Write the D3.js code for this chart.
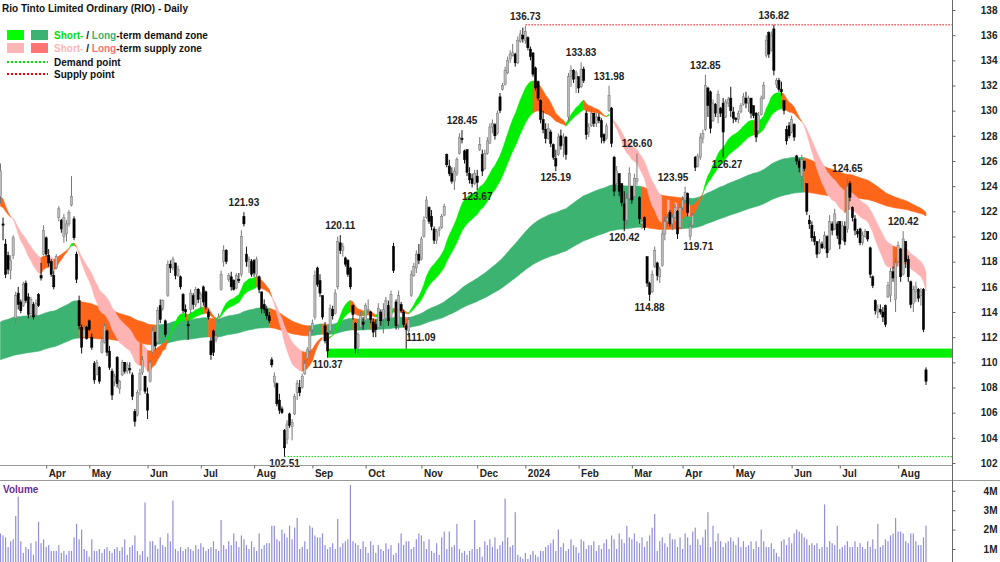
<!DOCTYPE html>
<html>
<head>
<meta charset="utf-8">
<script src="https://cdn.jsdelivr.net/npm/d3@7"></script>
<style>
body { margin: 0; background: #fff; }
svg { display: block; font-family: Arial, "Liberation Sans", sans-serif; }
</style>
</head>
<body>
<div id="chart"></div>
<script>
// RIO daily, 8 Mar 2023 - 15 Aug 2024 (one entry per trading day)
var opens = [
123.2,121.0,119.4,118.5,117.3,118.5,113.5,115.5,114.8,114.5,
116.3,115.2,113.9,114.6,113.8,115.4,116.9,118.6,119.9,118.5,
118.0,116.9,117.5,121.5,121.3,120.0,120.2,121.0,122.5,121.4,
118.6,114.9,112.8,112.0,112.8,113.3,112.0,109.9,109.0,109.6,
110.8,111.6,112.5,110.9,109.3,108.5,110.4,107.9,109.0,110.0,
109.3,109.5,109.0,106.1,105.8,107.8,109.2,108.9,107.5,108.5,
110.8,112.4,111.6,114.5,114.3,113.3,115.3,117.8,117.5,117.9,
116.9,116.8,115.4,114.2,113.0,114.2,115.3,114.6,115.8,115.1,
116.0,115.6,114.0,111.7,112.5,111.8,113.4,115.8,118.0,118.9,
116.6,116.8,116.5,115.9,116.6,117.0,121.6,118.6,117.6,118.0,
118.1,117.0,116.8,115.6,114.6,114.2,113.7,110.2,108.4,108.3,
107.0,106.3,104.6,103.9,105.9,104.9,105.9,107.6,108.0,108.0,
109.1,110.3,110.9,112.6,113.6,117.5,116.5,115.3,112.9,112.3,
112.5,114.2,113.9,116.0,119.5,118.9,118.3,118.1,117.5,114.5,
113.1,111.2,112.8,113.2,113.3,114.1,114.0,113.2,113.0,112.8,
114.0,113.4,113.5,114.5,113.6,119.2,114.8,113.0,114.6,114.0,
112.9,112.5,115.3,116.9,117.5,118.6,118.2,120.0,121.5,122.3,
121.6,120.6,119.7,120.5,120.7,121.7,126.5,125.6,125.0,124.4,
125.0,126.6,127.8,126.8,126.9,125.0,124.6,124.2,124.8,126.9,
126.5,125.4,126.6,127.4,128.7,128.9,128.2,131.1,131.7,132.1,
133.0,134.1,134.4,134.5,133.8,135.5,136.0,135.6,135.8,134.9,
134.6,133.4,132.3,130.8,129.3,128.5,127.8,128.3,127.3,126.2,
126.5,128.0,127.3,127.9,129.5,132.7,133.2,132.6,132.7,131.9,
133.3,129.8,128.3,128.8,129.8,129.0,129.5,129.2,128.1,127.8,
130.0,130.2,126.3,124.2,125.0,124.2,122.6,121.3,123.0,124.0,
123.2,124.4,123.1,121.0,121.5,118.4,116.3,115.6,117.6,117.9,
116.8,117.7,120.2,121.2,121.9,121.0,121.5,122.0,120.7,122.3,
122.9,123.4,120.0,120.9,126.3,125.6,126.3,127.8,128.5,131.8,
131.5,129.2,130.5,129.5,130.2,130.6,129.5,130.6,131.0,129.9,
129.4,129.3,129.9,130.5,131.0,130.6,131.0,130.4,129.8,128.4,
129.7,131.0,134.4,136.2,134.8,136.5,132.1,132.4,131.7,130.8,
128.5,128.8,128.3,128.9,126.4,126.0,124.8,126.0,124.2,121.3,
120.9,120.0,119.6,118.7,119.4,119.1,120.0,119.0,121.0,120.6,
121.0,121.2,119.8,120.8,120.6,124.2,122.3,121.4,120.4,120.6,
119.5,120.0,120.4,119.1,116.8,114.9,114.0,114.2,114.0,114.5,
115.2,115.3,117.2,115.0,118.0,119.0,117.0,119.6,118.2,116.4,
114.7,115.6,115.8,115.3,115.8,109.4
];
var highs = [
125.8,121.5,119.8,118.8,118.5,120.1,115.6,116.0,115.0,116.4,
116.5,115.5,115.2,114.8,115.0,115.5,117.9,120.9,120.0,119.0,
118.2,117.3,118.6,122.4,121.4,121.8,121.3,122.1,124.8,121.6,
118.8,115.3,113.0,113.0,112.9,113.4,112.3,110.1,110.2,109.7,
112.0,113.1,112.6,111.3,109.5,109.1,110.5,108.6,110.2,110.0,
110.0,110.0,109.2,106.3,107.8,109.5,110.5,108.9,108.0,110.2,
112.8,112.4,114.4,115.0,115.0,113.4,118.1,118.1,118.4,117.9,
117.7,116.9,115.5,114.6,113.3,115.8,115.5,116.0,115.9,115.6,
116.1,115.7,114.2,112.0,112.6,112.3,113.9,117.3,119.3,119.0,
117.1,117.2,116.6,117.1,117.1,120.5,121.93,119.2,118.4,118.2,
118.2,118.4,116.9,115.6,115.0,114.5,114.0,110.4,109.2,108.4,
107.5,106.5,104.7,105.4,106.0,105.5,107.5,108.6,108.6,109.1,
110.2,111.2,112.8,113.4,117.3,117.6,117.0,115.3,113.2,112.4,
114.6,114.5,115.8,120.0,120.11,119.5,118.4,118.2,117.6,114.6,
113.2,112.4,114.0,113.6,114.7,115.0,114.1,113.5,113.4,114.7,
114.2,114.7,115.2,114.9,115.7,119.5,115.0,115.7,114.8,114.2,
113.1,113.6,117.3,117.9,118.9,119.4,120.0,121.6,123.2,122.4,
122.1,120.8,120.6,120.8,121.8,122.6,126.6,126.1,125.5,125.5,
126.3,128.2,128.45,126.9,126.9,125.5,125.0,125.3,125.3,127.9,
126.9,126.9,127.9,129.0,129.3,129.0,130.0,131.4,132.2,133.5,
134.3,134.8,135.3,134.6,135.9,136.4,136.6,136.73,135.9,135.1,
134.6,133.5,132.4,130.9,130.0,129.0,129.0,128.5,127.4,126.9,
128.2,128.5,128.2,128.0,133.0,133.6,133.3,133.2,132.7,133.83,
133.5,130.0,129.0,130.1,129.8,129.8,129.8,129.4,128.2,129.0,
131.98,130.3,126.4,125.6,125.0,124.2,123.6,123.4,125.5,124.0,
125.0,126.60,123.2,121.4,121.6,118.4,116.4,117.3,119.2,118.0,
117.6,120.5,121.6,121.8,122.1,121.8,122.6,122.1,122.6,123.2,
123.95,123.5,121.1,121.9,126.4,126.6,128.2,128.5,132.85,131.9,
131.6,130.9,130.6,131.6,130.3,131.0,130.9,131.1,131.9,130.3,
129.5,130.0,130.6,131.4,131.5,131.2,131.0,130.4,129.9,129.9,
131.2,132.3,136.0,136.3,136.3,136.82,132.6,132.6,132.3,130.8,
128.8,129.1,129.6,129.0,126.5,126.2,126.5,126.0,124.2,121.7,
121.2,120.4,119.6,119.8,119.6,120.4,120.1,121.7,121.2,122.2,
121.2,121.2,121.2,121.2,124.65,124.4,122.4,121.7,120.6,120.7,
120.4,120.6,120.4,119.2,116.9,115.0,114.6,114.6,114.4,114.6,
116.4,117.5,117.6,118.3,119.6,119.1,120.42,119.6,118.5,116.5,
116.1,116.4,115.9,115.9,115.9,109.6
];
var lows = [
122.6,119.7,116.7,117.0,116.6,118.2,113.1,114.2,113.9,114.4,
114.7,113.5,113.6,113.4,113.6,114.4,116.5,118.5,118.4,117.6,
116.8,115.8,117.4,121.2,120.3,119.5,119.6,120.8,122.4,119.7,
116.3,112.6,110.7,112.0,111.8,112.5,111.0,108.3,109.0,108.3,
110.7,111.5,110.5,109.4,107.0,108.1,108.0,107.5,108.9,109.1,
109.1,109.1,107.0,104.9,105.7,107.4,109.0,107.5,105.5,108.4,
110.7,111.0,111.5,113.1,114.1,112.0,115.2,117.1,117.3,116.6,
116.8,115.8,113.9,113.6,111.8,113.9,114.2,114.4,114.7,114.2,
114.5,114.2,113.4,110.2,110.5,111.6,113.2,115.7,117.6,117.8,
116.4,115.7,115.7,115.8,116.3,116.8,120.8,117.6,117.1,116.8,
116.8,116.8,115.5,113.9,113.9,113.4,113.1,109.6,108.0,106.5,
105.9,105.9,102.51,103.5,104.8,103.8,105.8,107.0,107.3,107.9,
109.0,110.2,110.7,112.3,113.4,116.0,115.2,113.4,111.5,110.37,
112.3,113.4,113.8,115.8,118.6,118.4,117.6,116.8,115.8,113.4,
110.7,110.7,112.7,112.6,113.2,113.9,113.1,112.0,112.0,112.7,
112.9,112.3,113.1,112.9,113.5,117.1,112.6,112.6,113.9,112.8,
111.09,112.0,115.2,116.8,117.1,117.8,118.1,119.9,121.4,121.0,
120.5,119.4,119.4,120.0,120.6,121.6,125.5,124.8,124.2,123.7,
124.8,126.5,127.4,125.8,124.8,124.2,123.9,124.1,123.67,126.8,
124.8,125.3,126.5,127.4,128.2,127.7,128.1,129.8,131.6,132.0,
132.9,133.8,134.3,133.5,133.7,135.4,135.4,135.3,134.8,134.0,
132.7,131.6,130.8,129.0,128.2,127.4,127.7,127.1,126.1,125.19,
126.4,126.9,126.3,126.1,129.2,131.9,132.2,131.4,131.4,131.8,
132.2,127.7,127.9,128.7,128.7,128.7,129.0,127.4,127.4,127.7,
129.9,127.1,123.2,124.1,123.2,122.4,120.42,120.9,122.9,122.6,
123.1,124.1,121.0,120.6,120.5,116.0,114.88,115.5,117.5,116.5,
116.3,117.6,119.7,120.8,120.8,120.5,121.3,119.8,120.6,122.1,
122.6,121.6,119.71,120.8,125.2,125.5,126.1,127.4,128.4,129.5,
128.2,129.1,129.5,129.0,129.5,126.27,129.4,130.3,129.5,129.0,
129.1,129.0,129.8,130.4,130.2,129.9,129.4,129.4,127.5,128.3,
129.6,130.9,134.2,134.2,134.7,132.8,131.8,131.5,131.2,129.7,
127.3,127.8,128.2,127.6,125.7,125.1,123.8,125.2,121.7,120.6,
119.6,119.3,118.3,118.6,119.0,119.0,118.3,118.9,120.1,120.5,
119.8,119.0,119.7,119.3,120.3,122.8,121.2,120.1,119.9,119.3,
119.3,119.9,119.6,116.7,115.9,113.8,113.5,113.8,113.2,112.8,
115.1,114.8,116.4,114.0,117.9,116.4,116.9,117.5,116.4,114.3,
114.0,114.8,114.8,114.5,112.4,108.2
];
var closes = [
125.2,120.9,117.0,117.4,118.1,119.9,115.3,114.6,114.1,116.2,
114.9,113.8,115.0,113.6,114.7,114.5,116.7,120.5,118.6,117.9,
117.0,116.0,118.4,122.2,120.6,121.5,121.0,121.9,123.2,119.9,
116.6,112.9,111.2,112.6,111.9,112.6,111.2,108.6,110.0,108.5,
111.7,112.9,110.8,109.6,107.4,108.9,108.3,108.5,110.0,109.3,
109.8,109.4,107.3,105.3,107.6,109.1,110.2,107.7,106.2,110.0,
112.5,111.3,114.1,113.4,114.9,112.2,117.8,117.5,118.2,116.9,
117.4,116.0,114.1,114.0,112.9,115.5,114.6,115.8,115.0,115.4,
114.8,114.4,113.6,110.6,110.8,112.1,113.6,117.0,118.9,118.0,
116.9,116.0,115.8,116.9,116.5,120.0,121.0,118.0,118.2,117.0,
117.1,118.2,115.8,114.3,114.2,113.7,113.3,109.8,108.9,106.7,
106.2,106.0,103.2,105.1,105.0,105.2,107.3,108.3,107.6,108.9,
109.9,111.0,112.5,113.1,116.9,116.2,115.5,113.6,111.7,110.9,
114.3,113.7,115.5,119.6,118.9,119.2,117.8,117.0,116.0,113.8,
111.1,112.2,113.7,113.0,114.5,114.2,113.4,112.4,112.6,114.3,
113.3,114.2,114.9,113.3,115.4,117.3,112.9,115.3,114.1,113.0,
112.6,113.4,117.0,117.6,118.6,118.1,119.8,121.3,122.9,121.2,
120.8,119.7,120.4,120.6,121.6,122.4,125.7,125.0,124.4,125.2,
126.1,127.9,127.7,126.1,125.1,124.5,124.2,125.0,124.3,127.3,
125.2,126.6,127.6,128.7,129.0,128.0,129.8,130.0,132.0,133.2,
134.0,134.5,134.6,133.8,135.6,136.1,135.7,136.3,135.0,134.3,
132.9,131.8,131.0,129.3,128.5,127.8,128.6,127.4,126.3,125.6,
127.9,127.2,127.9,126.5,132.7,133.2,132.5,133.0,131.8,133.3,
132.4,128.1,128.7,129.8,129.0,129.5,129.2,127.9,127.6,128.8,
131.2,127.4,123.6,125.2,123.6,122.7,121.3,123.0,125.0,122.9,
124.6,124.6,121.4,121.2,120.7,116.3,115.4,117.0,118.9,116.9,
117.4,120.2,121.2,121.5,121.0,121.5,122.3,120.2,122.3,122.9,
123.5,121.9,120.8,121.7,125.5,126.4,127.9,128.2,132.0,130.4,
128.6,130.6,129.8,131.3,129.8,128.3,130.7,130.9,130.0,129.4,
129.3,129.8,130.4,131.1,130.6,131.0,129.8,129.6,127.9,129.6,
131.0,132.0,135.6,134.5,136.0,133.2,132.4,131.7,131.5,130.0,
127.6,128.0,129.3,127.9,126.0,125.5,126.1,125.4,122.0,121.0,
119.9,119.6,118.6,119.5,119.1,120.1,118.7,121.2,120.5,121.8,
120.1,119.4,120.9,119.6,124.0,123.1,121.5,120.5,120.2,119.5,
120.1,120.4,119.8,117.0,116.1,114.1,114.3,114.0,113.6,113.0,
116.1,117.2,116.7,117.9,119.3,116.8,119.8,118.0,116.8,114.6,
115.8,116.0,115.1,115.6,112.6,108.5
];
// volume, millions of shares
var volumes = [
1.8,1.7,1.6,1.1,1.4,1.5,2.7,3.7,1.4,0.8,
1.1,1.0,1.3,0.7,1.4,2.4,1.3,1.5,1.1,1.2,
0.9,0.9,0.9,1.2,0.8,0.9,0.7,0.9,0.9,1.6,
2.3,1.5,2.0,1.0,0.9,0.6,1.5,0.9,0.9,1.0,
0.8,1.0,1.1,0.9,0.8,1.0,1.1,0.9,1.1,1.5,
0.7,1.1,1.2,1.7,0.9,0.7,0.9,3.4,0.6,1.4,
1.4,1.2,1.0,1.6,1.2,1.1,1.8,1.4,3.5,1.0,
0.9,1.1,0.9,1.0,1.1,1.0,0.9,1.2,1.0,1.3,
1.1,0.9,1.0,1.1,1.4,1.0,0.9,2.5,1.2,1.0,
1.4,1.2,1.8,1.4,1.1,1.7,1.5,1.2,1.0,1.4,
1.1,0.9,1.8,1.0,1.2,1.3,1.3,2.2,2.2,1.5,
1.4,2.0,1.8,1.6,2.2,1.5,2.1,2.6,1.0,1.1,
1.4,1.0,2.2,2.1,1.7,1.6,1.6,1.8,1.2,1.0,
1.1,1.3,1.0,2.55,1.1,1.3,1.4,1.5,4.3,1.4,
1.3,1.2,1.0,1.4,1.1,0.8,1.4,1.2,0.8,1.2,
1.0,0.9,1.3,1.0,1.2,0.7,0.8,1.3,1.8,1.2,
1.4,1.4,1.0,1.1,1.5,1.8,1.7,1.4,1.0,1.5,
0.9,0.8,1.3,0.7,1.6,1.9,1.0,1.9,1.1,1.2,
2.3,1.0,0.8,0.9,0.7,0.9,1.0,2.5,1.0,1.1,
0.6,1.4,1.2,1.5,1.1,1.6,1.0,1.2,1.4,3.6,
1.6,1.1,1.2,2.9,0.7,0.6,0.5,0.8,0.5,0.7,
0.9,0.7,0.6,0.9,0.9,1.1,1.2,1.3,1.5,0.9,
2.0,1.1,1.3,0.9,1.0,1.5,1.2,1.1,0.8,1.5,
1.4,1.0,1.2,1.2,1.4,0.9,1.2,1.0,1.3,1.5,
1.0,1.7,1.5,1.0,1.8,1.5,1.3,2.2,1.6,1.5,
1.8,1.4,1.3,1.6,1.1,1.4,1.7,2.1,2.8,0.9,
1.4,1.6,1.3,1.1,1.8,1.5,1.5,1.1,1.6,1.0,
1.8,1.6,1.2,1.9,2.1,1.5,1.2,1.6,2.0,2.9,
1.1,2.2,1.4,1.8,1.4,1.1,1.3,1.4,1.6,1.4,
1.2,1.6,1.1,1.4,1.1,1.2,1.4,1.0,1.4,1.1,
2.0,1.4,1.1,1.1,1.3,1.0,0.8,0.6,1.4,1.5,
1.2,1.6,1.3,1.8,2.0,1.9,1.8,1.6,1.5,1.2,
1.3,1.2,1.3,1.0,1.1,3.3,1.1,1.4,1.3,1.2,
2.2,1.0,1.1,1.2,1.4,1.1,1.1,1.4,1.1,1.3,
1.1,1.0,1.4,1.1,1.5,1.0,2.3,1.1,1.2,1.5,
1.4,1.7,1.8,2.6,1.9,1.9,1.8,1.4,1.3,1.8,
1.8,1.4,1.2,1.2,1.6,2.2
];

// first trading day of each month (index into the arrays above)
var tickLabels = ['Apr','May','Jun','Jul','Aug','Sep','Oct','Nov','Dec','2024','Feb','Mar','Apr','May','Jun','Jul','Aug'];
var tickIndex = [18,35,58,79,100,123,144,166,188,207,228,249,269,289,312,331,354];
var priceTicks = d3.range(102, 139, 2);
var volTicks = [1, 2, 3, 4];

// ribbon EMA periods and their values at the first bar
var emaPeriods = [20, 34, 135, 235];
var emaSeeds = [123.2, 122.4, 113.2, 110.2];

// swing labels
var highLabels = [96, 134, 182, 207, 229, 240, 251, 270, 278, 305, 334, 356];
var lowLabels = [112, 129, 160, 188, 219, 246, 256, 272, 285];
var demandLow = 129, demandHigh = 160, demandPoint = 112;
var supplyStart = 207, supplyPoint = 305;

var W = 1000, H = 562, plotR = 952;
var N = closes.length;

var svg = d3.select('#chart').append('svg')
    .attr('width', W).attr('height', H);

var x = d3.scaleLinear().domain([0, 365]).range([0.5, 926]);
var y = d3.scaleLinear().domain([102, 138]).range([463, 10]);
var yv = d3.scaleLinear().domain([0, 4]).range([568.4, 490.8]);

function ema(vals, n, seed) {
    var a = 2 / (n + 1), e = seed, out = [];
    vals.forEach(function(v, i) {
        if (i > 0) e = e + a * (v - e);
        out.push(e);
    });
    return out;
}
var sFast = ema(closes, emaPeriods[0], emaSeeds[0]);
var sSlow = ema(closes, emaPeriods[1], emaSeeds[1]);
var lFast = ema(closes, emaPeriods[2], emaSeeds[2]);
var lSlow = ema(closes, emaPeriods[3], emaSeeds[3]);

// long ribbon: 0 demand, 1 supply (price has to leave the ribbon to flip)
var longState = [], st = 0;
closes.forEach(function(c, i) {
    if (c > Math.max(lFast[i], lSlow[i])) st = 0;
    else if (c < Math.min(lFast[i], lSlow[i])) st = 1;
    longState.push(st);
});
// short ribbon: 0 demand, 1 mixed, 2 supply
var shortState = closes.map(function(c, i) {
    if (sFast[i] > sSlow[i] && c > sFast[i]) return 0;
    if (sFast[i] < sSlow[i] && c < sFast[i]) return 2;
    return 1;
});

svg.append('clipPath').attr('id', 'plotclip')
    .append('rect').attr('x', 0).attr('y', 0).attr('width', plotR).attr('height', 464);
var plot = svg.append('g').attr('clip-path', 'url(#plotclip)');

function ribbon(g, a, b, states, colors) {
    var runs = [], cur = null;
    for (var i = 1; i < N; i++) {
        if (cur && cur.s === states[i]) cur.end = i;
        else { cur = {s: states[i], start: i - 1, end: i}; runs.push(cur); }
    }
    var area = d3.area()
        .x(function(i) { return x(i); })
        .y0(function(i) { return y(a[i]); })
        .y1(function(i) { return y(b[i]); });
    g.selectAll(null).data(runs).enter().append('path')
        .attr('d', function(r) { return area(d3.range(r.start, r.end + 1)); })
        .attr('fill', function(r) { return colors[r.s]; })
        .attr('stroke', function(r) { return colors[r.s]; })
        .attr('stroke-width', 0.6);
}
ribbon(plot.append('g'), lFast, lSlow, longState, ['#3cb371', '#ff6619']);
ribbon(plot.append('g'), sFast, sSlow, shortState, ['#00ee00', '#ff6619', '#ffb3b3']);

// demand zone
plot.append('rect')
    .attr('x', x(demandLow)).attr('width', plotR - x(demandLow))
    .attr('y', y(lows[demandHigh])).attr('height', y(lows[demandLow]) - y(lows[demandHigh]))
    .attr('fill', '#00ee00');

plot.append('line')
    .attr('x1', x(demandPoint)).attr('x2', plotR)
    .attr('y1', y(lows[demandPoint])).attr('y2', y(lows[demandPoint]))
    .attr('stroke', '#00e000').attr('stroke-dasharray', '1.5,1.5');
plot.append('line')
    .attr('x1', x(supplyStart)).attr('x2', plotR)
    .attr('y1', y(highs[supplyPoint])).attr('y2', y(highs[supplyPoint]))
    .attr('stroke', '#ff0000').attr('stroke-dasharray', '1.5,1.5');

// candles
var idx = d3.range(N);
var up = function(i) { return closes[i] >= opens[i]; };
plot.selectAll('line.wick').data(idx).enter().append('line')
    .attr('class', 'wick')
    .attr('x1', function(i) { return x(i); }).attr('x2', function(i) { return x(i); })
    .attr('y1', function(i) { return y(highs[i]); }).attr('y2', function(i) { return y(lows[i]); })
    .attr('stroke', function(i) { return up(i) ? '#777' : '#111'; })
    .attr('stroke-width', 1);
plot.selectAll('rect.body').data(idx).enter().append('rect')
    .attr('class', 'body')
    .attr('x', function(i) { return x(i) - 1.1; })
    .attr('width', 2.2)
    .attr('y', function(i) { return y(Math.max(opens[i], closes[i])); })
    .attr('height', function(i) { return Math.max(0.8, Math.abs(y(opens[i]) - y(closes[i]))); })
    .attr('fill', function(i) { return up(i) ? '#bbb' : '#000'; })
    .attr('stroke', function(i) { return up(i) ? '#777' : '#000'; })
    .attr('stroke-width', 0.5);

// swing labels
var fmt = d3.format('.2f');
var labelShift = {270: -12, 272: 8, 285: 4};
svg.selectAll('text.hi').data(highLabels).enter().append('text')
    .attr('x', function(i) { return x(i) + (labelShift[i] || 0); })
    .attr('y', function(i) { return y(highs[i]) - 6; })
    .attr('text-anchor', 'middle')
    .attr('font-size', 10).attr('font-weight', 'bold').attr('fill', '#222')
    .text(function(i) { return fmt(highs[i]); });
svg.selectAll('text.lo').data(lowLabels).enter().append('text')
    .attr('x', function(i) { return x(i) + (labelShift[i] || 0); })
    .attr('y', function(i) { return i === demandHigh ? y(lows[i]) - 7.5 : y(lows[i]) + 10; })
    .attr('text-anchor', function(i) { return i === demandHigh ? 'start' : 'middle'; })
    .attr('font-size', 10).attr('font-weight', 'bold').attr('fill', '#222')
    .text(function(i) { return fmt(lows[i]); });

// frame lines
svg.append('line').attr('x1', 0).attr('x2', plotR).attr('y1', 465.5).attr('y2', 465.5).attr('stroke', '#999');
svg.append('line').attr('x1', 0).attr('x2', W).attr('y1', 480.5).attr('y2', 480.5).attr('stroke', '#999');
svg.append('line').attr('x1', plotR + 0.5).attr('x2', plotR + 0.5).attr('y1', 0).attr('y2', H).attr('stroke', '#666');

// price axis
var yAxis = svg.append('g').attr('transform', 'translate(' + (plotR + 0.5) + ',0)')
    .call(d3.axisRight(y).tickValues(priceTicks).tickSize(3).tickFormat(d3.format('d')));
yAxis.select('.domain').remove();
yAxis.selectAll('line').attr('stroke', '#666');
yAxis.selectAll('text').attr('x', 45).attr('text-anchor', 'end')
    .attr('font-size', 10).attr('font-weight', 'bold').attr('fill', '#222')
    .attr('font-family', 'Arial, "Liberation Sans", sans-serif');

// volume axis
var vAxis = svg.append('g').attr('transform', 'translate(' + (plotR + 0.5) + ',0)')
    .call(d3.axisRight(yv).tickValues(volTicks).tickSize(3).tickFormat(function(d) { return d + 'M'; }));
vAxis.select('.domain').remove();
vAxis.selectAll('line').attr('stroke', '#666');
vAxis.selectAll('text').attr('x', 45).attr('text-anchor', 'end')
    .attr('font-size', 10).attr('font-weight', 'bold').attr('fill', '#222')
    .attr('font-family', 'Arial, "Liberation Sans", sans-serif');

// month axis
var xAxis = svg.append('g').attr('transform', 'translate(0,465.5)')
    .call(d3.axisBottom(x).tickValues(tickIndex).tickSize(3)
        .tickFormat(function(d, k) { return tickLabels[k]; }));
xAxis.select('.domain').remove();
xAxis.selectAll('line').attr('stroke', '#666');
xAxis.selectAll('text').attr('x', 2).attr('y', 4).attr('dy', '0.71em')
    .attr('text-anchor', 'start')
    .attr('font-size', 10).attr('font-weight', 'bold').attr('fill', '#222')
    .attr('font-family', 'Arial, "Liberation Sans", sans-serif');

// volume bars
svg.append('g').selectAll('rect').data(idx).enter().append('rect')
    .attr('x', function(i) { return x(i) - 0.6; })
    .attr('width', 1.2)
    .attr('y', function(i) { return yv(volumes[i]); })
    .attr('height', function(i) { return H - yv(volumes[i]); })
    .attr('fill', '#9090d4');

svg.append('text').attr('x', 3).attr('y', 493)
    .attr('font-size', 10).attr('font-weight', 'bold').attr('fill', '#6a2c91')
    .text('Volume');

// title + legend
svg.append('text').attr('x', 2).attr('y', 12)
    .attr('font-size', 10).attr('font-weight', 'bold').attr('fill', '#111')
    .text('Rio Tinto Limited Ordinary (RIO) - Daily');

var lg = svg.append('g').attr('font-size', 10).attr('font-weight', 'bold');
lg.append('rect').attr('x', 7).attr('y', 30).attr('width', 17).attr('height', 10).attr('fill', '#00ff00');
lg.append('rect').attr('x', 31).attr('y', 30).attr('width', 17).attr('height', 10).attr('fill', '#3cb371');
lg.append('rect').attr('x', 7).attr('y', 43).attr('width', 17).attr('height', 10).attr('fill', '#ffb6b6');
lg.append('rect').attr('x', 31).attr('y', 43).attr('width', 17).attr('height', 10).attr('fill', '#ff7373');
lg.append('line').attr('x1', 7).attr('x2', 48).attr('y1', 62).attr('y2', 62)
    .attr('stroke', '#00e000').attr('stroke-width', 2).attr('stroke-dasharray', '2,2');
lg.append('line').attr('x1', 7).attr('x2', 48).attr('y1', 74).attr('y2', 74)
    .attr('stroke', '#ff0000').attr('stroke-width', 2).attr('stroke-dasharray', '2,2');

var t1 = lg.append('text').attr('x', 54).attr('y', 39);
t1.append('tspan').attr('fill', '#00e000').text('Short-');
t1.append('tspan').attr('fill', '#111').text(' / ');
t1.append('tspan').attr('fill', '#3cb371').text('Long');
t1.append('tspan').attr('fill', '#111').text('-term demand zone');
var t2 = lg.append('text').attr('x', 54).attr('y', 52);
t2.append('tspan').attr('fill', '#ffb6b6').text('Short-');
t2.append('tspan').attr('fill', '#111').text(' / ');
t2.append('tspan').attr('fill', '#ff7373').text('Long');
t2.append('tspan').attr('fill', '#111').text('-term supply zone');
lg.append('text').attr('x', 54).attr('y', 65.5).attr('fill', '#111').text('Demand point');
lg.append('text').attr('x', 54).attr('y', 77.5).attr('fill', '#111').text('Supply point');
</script>
</body>
</html>
